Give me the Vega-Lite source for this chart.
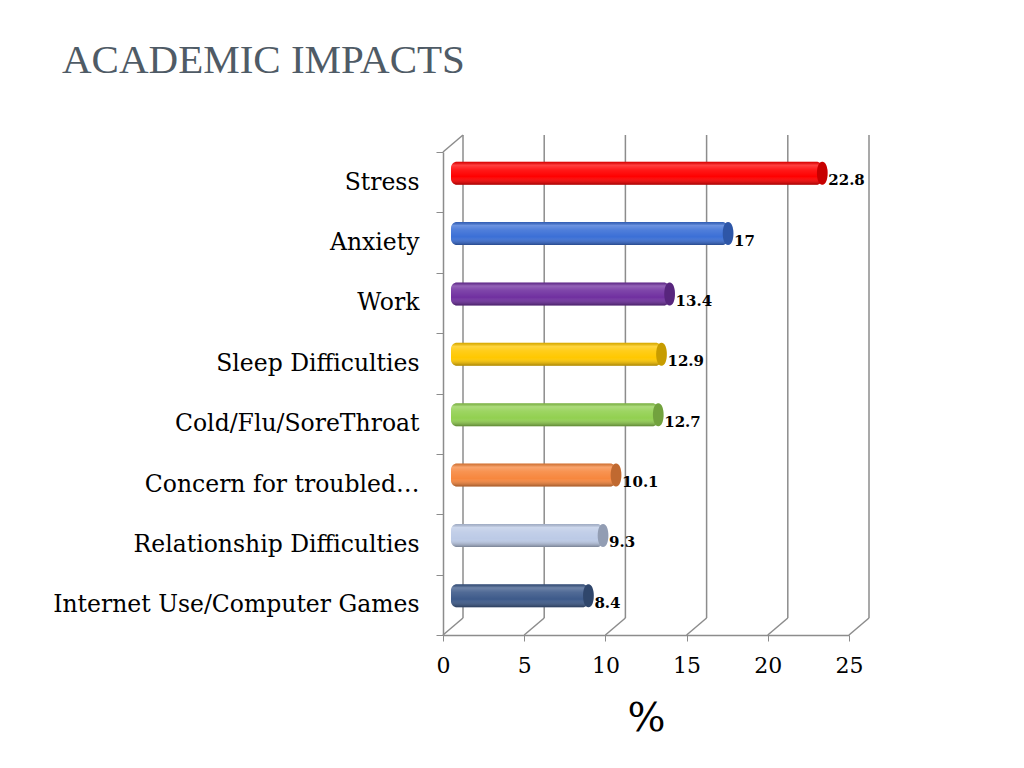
{
  "$schema": "https://vega.github.io/schema/vega-lite/v6.json",
  "width": 406,
  "height": 483,
  "autosize": "none",
  "padding": {"left": 443, "top": 152, "right": 175, "bottom": 133},
  "background": "white",
  "title": {
    "text": "ACADEMIC IMPACTS",
    "anchor": "start",
    "frame": "group",
    "dx": -381,
    "offset": 20,
    "baseline": "alphabetic",
    "font": "Liberation Serif",
    "fontSize": 41,
    "fontWeight": "normal",
    "color": "#4f5b66"
  },
  "datasets": {
    "impacts": [
      {"category": "Stress", "value": 22.8},
      {"category": "Anxiety", "value": 17},
      {"category": "Work", "value": 13.4},
      {"category": "Sleep Difficulties", "value": 12.9},
      {"category": "Cold/Flu/SoreThroat", "value": 12.7},
      {"category": "Concern for troubled…", "value": 10.1},
      {"category": "Relationship Difficulties", "value": 9.3},
      {"category": "Internet Use/Computer Games", "value": 8.4}
    ],
    "ticks": [
      {"tick": 0}, {"tick": 5}, {"tick": 10}, {"tick": 15}, {"tick": 20}, {"tick": 25}
    ]
  },
  "encoding": {
    "y": {
      "field": "category",
      "type": "nominal",
      "sort": null,
      "scale": {
        "domain": ["Stress", "Anxiety", "Work", "Sleep Difficulties", "Cold/Flu/SoreThroat", "Concern for troubled…", "Relationship Difficulties", "Internet Use/Computer Games"],
        "paddingInner": 0,
        "paddingOuter": 0
      },
      "axis": {
        "title": null,
        "tickBand": "extent",
        "tickSize": 7,
        "tickColor": "#8c8c8c",
        "domainColor": "#8c8c8c",
        "domainWidth": 1.5,
        "labelFont": "DejaVu Serif",
        "labelFontSize": 23.5,
        "labelColor": "#000000",
        "labelPadding": 17,
        "labelLimit": 420
      }
    }
  },
  "layer": [
    {
      "data": {"name": "ticks"},
      "mark": {"type": "rule", "color": "#8c8c8c", "strokeWidth": 1.5, "xOffset": 20, "yOffset": -17, "y2Offset": -17},
      "encoding": {
        "x": {"field": "tick", "type": "quantitative"},
        "y": {"datum": "Stress", "bandPosition": 0},
        "y2": {"datum": "Internet Use/Computer Games", "bandPosition": 1}
      }
    },
    {
      "data": {"name": "ticks"},
      "mark": {"type": "rule", "color": "#8c8c8c", "strokeWidth": 1.5, "x2Offset": 20, "y2Offset": -17},
      "encoding": {
        "x": {"field": "tick", "type": "quantitative"},
        "x2": {"field": "tick"},
        "y": {"datum": "Internet Use/Computer Games", "bandPosition": 1},
        "y2": {"datum": "Internet Use/Computer Games", "bandPosition": 1}
      }
    },
    {
      "data": {"values": [{"tick": 0}]},
      "mark": {"type": "rule", "color": "#8c8c8c", "strokeWidth": 1.5, "x2Offset": 20, "y2Offset": -17},
      "encoding": {
        "x": {"field": "tick", "type": "quantitative"},
        "x2": {"field": "tick"},
        "y": {"datum": "Stress", "bandPosition": 0},
        "y2": {"datum": "Stress", "bandPosition": 0}
      }
    },
    {
      "data": {"name": "impacts"},
      "mark": {"type": "bar", "height": 23, "xOffset": 9, "x2Offset": 8, "yOffset": -9, "cornerRadius": 6},
      "encoding": {
        "x": {
          "field": "value",
          "type": "quantitative",
          "stack": null,
          "scale": {"domain": [0, 25], "nice": false, "zero": true},
          "axis": {
            "title": "%",
            "values": [0, 5, 10, 15, 20, 25],
            "grid": false,
            "labelFlush": false,
            "tickSize": 6,
            "tickColor": "#8c8c8c",
            "domainColor": "#8c8c8c",
            "domainWidth": 1.5,
            "labelFont": "DejaVu Serif",
            "labelFontSize": 22,
            "labelColor": "#000000",
            "labelPadding": 14,
            "titleFont": "DejaVu Serif",
            "titleFontSize": 40,
            "titleFontWeight": "normal",
            "titleColor": "#000000",
            "titlePadding": 22
          }
        },
        "x2": {"datum": 0},
        "color": {
          "field": "category",
          "type": "nominal",
          "sort": null,
          "legend": null,
          "scale": {
            "range": ["#ff0000", "#3b6fd6", "#7030a0", "#ffc800", "#92d050", "#f7873e", "#bccae6", "#3d5a8a"]
          }
        }
      }
    },
    {
      "data": {"name": "impacts"},
      "mark": {
        "type": "bar",
        "height": 23,
        "xOffset": 9,
        "x2Offset": 8,
        "yOffset": -9,
        "cornerRadius": 6,
        "fill": {
          "gradient": "linear",
          "x1": 0, "y1": 0, "x2": 0, "y2": 1,
          "stops": [
            {"offset": 0, "color": "rgba(0,0,0,0.15)"},
            {"offset": 0.15, "color": "rgba(255,255,255,0.25)"},
            {"offset": 0.35, "color": "rgba(255,255,255,0.1)"},
            {"offset": 0.65, "color": "rgba(255,255,255,0)"},
            {"offset": 1, "color": "rgba(0,0,0,0.35)"}
          ]
        }
      },
      "encoding": {
        "x": {"field": "value", "type": "quantitative", "stack": null},
        "x2": {"datum": 0}
      }
    },
    {
      "data": {"name": "impacts"},
      "mark": {
        "type": "point",
        "filled": true,
        "opacity": 1,
        "size": 529,
        "xOffset": 9,
        "yOffset": -9,
        "shape": "M0,-1C0.62,-1 0.62,1 0,1C-0.62,1 -0.62,-1 0,-1Z"
      },
      "encoding": {
        "x": {"field": "value", "type": "quantitative"},
        "color": {"field": "category", "type": "nominal", "sort": null, "legend": null}
      }
    },
    {
      "data": {"name": "impacts"},
      "mark": {
        "type": "point",
        "filled": true,
        "color": "#000000",
        "opacity": 0.22,
        "size": 529,
        "xOffset": 9,
        "yOffset": -9,
        "shape": "M0,-1C0.62,-1 0.62,1 0,1C-0.62,1 -0.62,-1 0,-1Z"
      },
      "encoding": {
        "x": {"field": "value", "type": "quantitative"}
      }
    },
    {
      "data": {"name": "impacts"},
      "mark": {
        "type": "text",
        "align": "left",
        "baseline": "middle",
        "xOffset": 15,
        "yOffset": -2,
        "font": "DejaVu Serif",
        "fontSize": 15,
        "fontWeight": "bold",
        "color": "#000000"
      },
      "encoding": {
        "x": {"field": "value", "type": "quantitative"},
        "text": {"field": "value", "type": "quantitative"}
      }
    }
  ],
  "config": {
    "view": {"stroke": null}
  }
}
